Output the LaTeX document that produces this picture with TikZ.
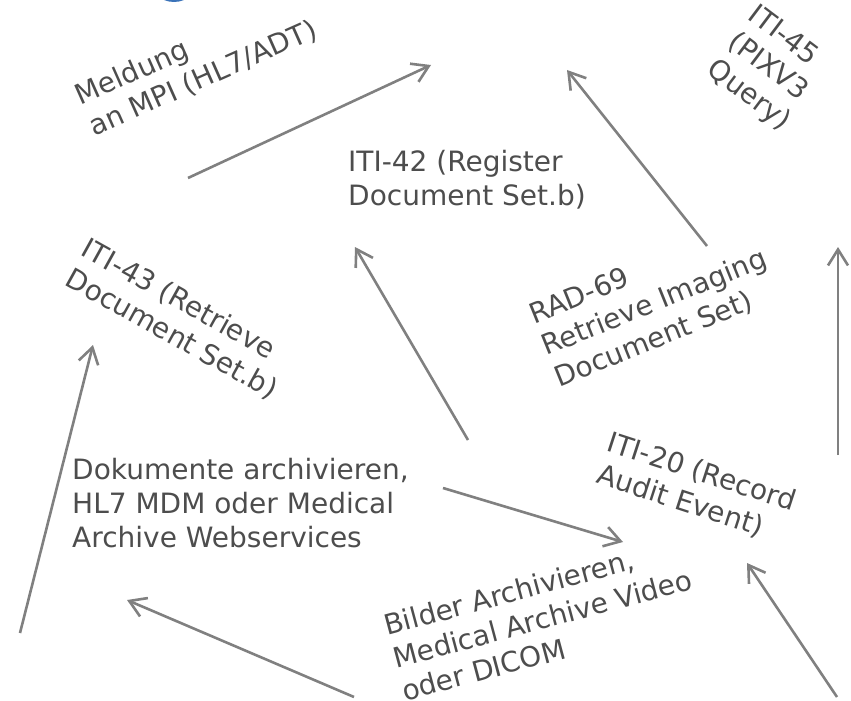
\documentclass[tikz,border=0pt]{standalone}
\usepackage{fontspec}
\setmainfont{DejaVu Sans}
\usetikzlibrary{arrows.meta}
\definecolor{txtgray}{HTML}{4D4D4D}
\definecolor{arrgray}{HTML}{808080}
\definecolor{logoblue}{HTML}{3B73B9}
\begin{document}
\begin{tikzpicture}[x=1pt,y=-1pt,
    lbl/.style={text=txtgray,font=\fontsize{28}{34}\selectfont,align=left,inner sep=0pt,anchor=north west},
    flow/.style={draw=arrgray,line width=2.6pt,-{Straight Barb[length=16pt,width=20pt]}}]

    \useasboundingbox (0,0) rectangle (851,701);
    \clip (0,0) rectangle (851,701);
    \fill[logoblue] (174,-24) circle (26);

    % labels
    \node[lbl,rotate=24] (mpi) at (72,86) {Meldung\\an MPI (HL7/ADT)};
    \node[lbl] (reg) at (348,150) {ITI-42 (Register\\Document Set.b)};
    \node[lbl,rotate=-37] (pix) at (759,2) {ITI-45\\(PIXV3\\Query)};
    \node[lbl,rotate=-29] (ret) at (90,236) {ITI-43 (Retrieve\\Document Set.b)};
    \node[lbl,rotate=22] (rad) at (526,305) {RAD-69\\Retrieve Imaging\\Document Set)};
    \node[lbl,rotate=-18] (aud) at (612,430) {ITI-20 (Record\\Audit Event)};
    \node[lbl] (dok) at (72,458) {Dokumente archivieren,\\HL7 MDM oder Medical\\Archive Webservices};
    \node[lbl,rotate=15,anchor=south west] (bil) at (405,702) {Bilder Archivieren,\\Medical Archive Video\\oder DICOM};

    % arrow ends
    \coordinate (mpiS) at (188,178);  \coordinate (mpiE) at (431,65);
    \coordinate (radS) at (707,246);  \coordinate (radE) at (567,70);
    \coordinate (pixS) at (838,455);  \coordinate (pixE) at (838,247);
    \coordinate (regS) at (468,440);  \coordinate (regE) at (355,247);
    \coordinate (retS) at (20,633);   \coordinate (retE) at (93,345);
    \coordinate (dokS) at (443,488);  \coordinate (dokE) at (623,542);
    \coordinate (bilS) at (354,697);  \coordinate (bilE) at (127,600);
    \coordinate (audS) at (837,697);  \coordinate (audE) at (747,563);

    \draw[flow] (mpiS) -- (mpiE);
    \draw[flow] (radS) -- (radE);
    \draw[flow] (pixS) -- (pixE);
    \draw[flow] (regS) -- (regE);
    \draw[flow] (retS) -- (retE);
    \draw[flow] (dokS) -- (dokE);
    \draw[flow] (bilS) -- (bilE);
    \draw[flow] (audS) -- (audE);

\end{tikzpicture}
\end{document}
